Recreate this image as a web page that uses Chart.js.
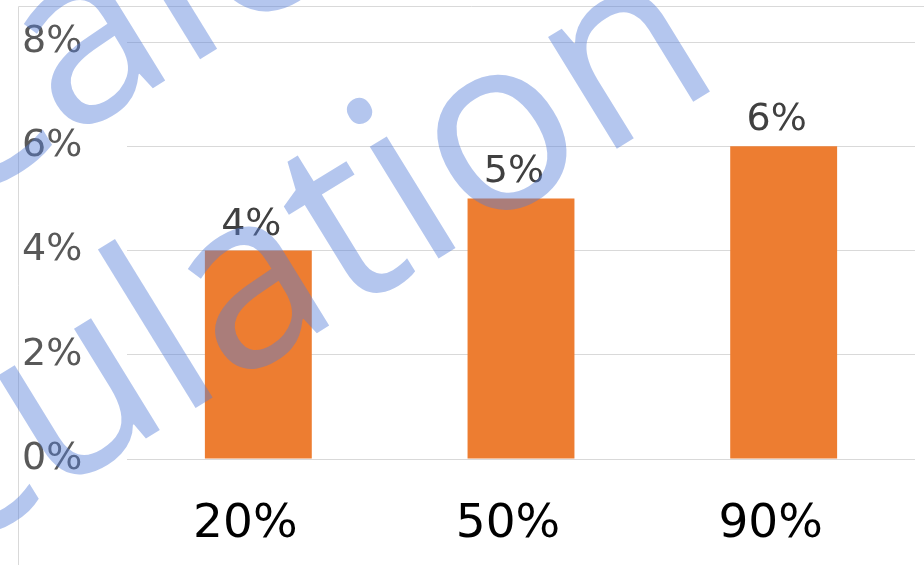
<!DOCTYPE html>
<html>
<head>
<meta charset="utf-8">
<script src="https://cdn.jsdelivr.net/npm/chart.js@4"></script>
<style>
  html, body { margin: 0; padding: 0; background: #fff; }
  #wrap { width: 924px; height: 565px; }
</style>
</head>
<body>
<div id="wrap"><canvas id="grafico" width="924" height="565"></canvas></div>
<script>
const categorias = ['20%', '50%', '90%'];
const valores = [4, 5, 6];
const ticksY = [0, 2, 4, 6, 8];
const marcaDagua = 'Calculation';

// borda da area do grafico (canto cortado da imagem original)
const bordaPlugin = {
    id: 'borda',
    beforeDraw(chart) {
        const ctx = chart.ctx;
        ctx.save();
        ctx.strokeStyle = '#d9d9d9';
        ctx.lineWidth = 1;
        ctx.beginPath();
        ctx.moveTo(18.5, 565);
        ctx.lineTo(18.5, 6.5);
        ctx.lineTo(924, 6.5);
        ctx.stroke();
        ctx.restore();
    }
};

// rotulos de dados acima das barras
const rotulosPlugin = {
    id: 'rotulos',
    afterDatasetsDraw(chart) {
        const ctx = chart.ctx;
        const meta = chart.getDatasetMeta(0);
        ctx.save();
        ctx.font = '38px "DejaVu Sans"';
        ctx.fillStyle = '#404040';
        ctx.textAlign = 'center';
        ctx.textBaseline = 'alphabetic';
        meta.data.forEach(function (barra, i) {
            ctx.fillText(valores[i] + '%', barra.x - 7, barra.y - 16);
        });
        ctx.restore();
    }
};

// marca d'agua azul por cima de tudo
const marcaPlugin = {
    id: 'marca',
    afterDraw(chart) {
        const ctx = chart.ctx;
        const ang = -31.6 * Math.PI / 180;
        const tam = 245;
        ctx.save();
        ctx.font = '500 ' + tam + 'px "Open Sans"';
        ctx.fillStyle = 'rgba(85, 125, 216, 0.44)';
        const xh = 0.535 * tam;
        // posiciona a palavra pelo centro de uma letra
        function desenha(indice, px, py) {
            const dx = ctx.measureText(marcaDagua.slice(0, indice)).width +
                ctx.measureText(marcaDagua[indice]).width / 2;
            const dy = -xh / 2;
            const ox = px - (dx * Math.cos(ang) - dy * Math.sin(ang));
            const oy = py - (dx * Math.sin(ang) + dy * Math.cos(ang));
            ctx.save();
            ctx.translate(ox, oy);
            ctx.rotate(ang);
            ctx.fillText(marcaDagua, 0, 0);
            ctx.restore();
        }
        desenha(6, 254, 295);
        desenha(1, 90, 50);
        ctx.restore();
    }
};

const ctx = document.getElementById('grafico').getContext('2d');
new Chart(ctx, {
    type: 'bar',
    data: {
        labels: categorias,
        datasets: [{
            data: valores,
            backgroundColor: '#ED7D31',
            borderWidth: 0,
            categoryPercentage: 1,
            barPercentage: 0.407
        }]
    },
    options: {
        responsive: false,
        animation: false,
        layout: { padding: { top: 42, left: 22, right: 9, bottom: 0 } },
        plugins: {
            legend: { display: false },
            tooltip: { enabled: false }
        },
        scales: {
            x: {
                grid: { display: false },
                border: { display: false },
                ticks: {
                    font: { family: 'DejaVu Sans', size: 47 },
                    color: '#000000',
                    padding: 30,
                    labelOffset: -13,
                    maxRotation: 0
                },
                afterFit(scale) { scale.height = 106; }
            },
            y: {
                min: 0,
                max: 8,
                afterBuildTicks(scale) {
                    scale.ticks = ticksY.map(v => ({ value: v }));
                },
                grid: { color: '#d9d9d9', lineWidth: 1, drawTicks: false },
                border: { display: false },
                ticks: {
                    font: { family: 'DejaVu Sans', size: 38 },
                    color: '#595959',
                    crossAlign: 'far',
                    padding: 0,
                    callback: v => v + '%'
                },
                afterFit(scale) { scale.width = 105; }
            }
        }
    },
    plugins: [bordaPlugin, rotulosPlugin, marcaPlugin]
});
</script>
</body>
</html>
